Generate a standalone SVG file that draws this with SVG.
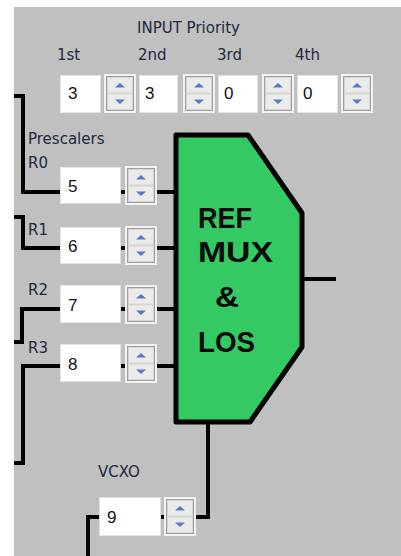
<svg xmlns="http://www.w3.org/2000/svg" width="401" height="556" viewBox="0 0 401 556">
<style>
.lbl{font-family:"DejaVu Sans",sans-serif;font-size:15px;fill:#222a3c}
.val{font-family:"Liberation Sans",Arial,sans-serif;font-size:17px;fill:#111}
.box{fill:#fff;stroke:#e2e2e2;stroke-width:1}
.wire{fill:none;stroke:#000;stroke-width:4;stroke-linejoin:miter}
.chiptxt{font-family:"Liberation Sans",Arial,sans-serif;font-weight:bold;font-size:29px;fill:#0a0a0a}
</style>
<defs>
<g id="spin">
<rect x="0" y="0" width="32" height="39" fill="#f2f2f2"/>
<rect x="2.5" y="2.5" width="27" height="34" fill="#d4d4d4" stroke="#a0a0a0" stroke-width="1"/>
<rect x="4" y="4" width="24" height="14.5" fill="#ebebeb"/>
<rect x="4" y="20.5" width="24" height="14.5" fill="#ebebeb"/>
<polygon points="11,13.5 21,13.5 16,9" fill="#5a78c8"/>
<polygon points="11,25.5 21,25.5 16,30" fill="#5a78c8"/>
</g>
</defs>
<rect width="401" height="556" fill="#fff"/>
<rect x="14" y="7" width="387" height="549" fill="#c0c0c0"/>

<g id="connectors">
<polyline class="wire" points="14,96 23,96 23,192 60,192"/>
<polyline class="wire" points="14,217 23,217 23,248 60,248"/>
<polyline class="wire" points="14,342 22,342 22,309 60,309"/>
<polyline class="wire" points="14,463 23,463 23,366 60,366"/>
<line class="wire" x1="120" y1="192" x2="178" y2="192"/>
<line class="wire" x1="120" y1="248" x2="178" y2="248"/>
<line class="wire" x1="120" y1="309" x2="178" y2="309"/>
<line class="wire" x1="120" y1="366" x2="178" y2="366"/>
<line class="wire" x1="300" y1="279" x2="336" y2="279"/>
<polyline class="wire" points="160,517 208,517 208,420"/>
<polyline class="wire" points="99,517 88,517 88,556"/>
</g>

<g id="priority">
<text class="lbl" x="137" y="33">INPUT Priority</text>
<text class="lbl" x="57" y="60">1st</text>
<text class="lbl" x="138" y="60">2nd</text>
<text class="lbl" x="217" y="60">3rd</text>
<text class="lbl" x="295" y="60">4th</text>
<rect class="box" x="60.5" y="75.5" width="40" height="37"/>
<text class="val" x="68" y="99">3</text>
<use href="#spin" x="104" y="74"/>
<rect class="box" x="139.5" y="75.5" width="38" height="37"/>
<text class="val" x="145" y="99">3</text>
<use href="#spin" x="183" y="74"/>
<rect class="box" x="218.5" y="75.5" width="39" height="37"/>
<text class="val" x="224" y="99">0</text>
<use href="#spin" x="262" y="74"/>
<rect class="box" x="297.5" y="75.5" width="40" height="37"/>
<text class="val" x="303" y="99">0</text>
<use href="#spin" x="341" y="74"/>
</g>

<g id="prescalers">
<text class="lbl" x="28" y="144">Prescalers</text>
<text class="lbl" x="28" y="168">R0</text>
<rect class="box" x="60.5" y="167.5" width="60" height="36"/>
<text class="val" x="68" y="192">5</text>
<use href="#spin" x="125" y="166"/>
<text class="lbl" x="28" y="235">R1</text>
<rect class="box" x="60.5" y="227.5" width="60" height="36"/>
<text class="val" x="68" y="252">6</text>
<use href="#spin" x="125" y="226"/>
<text class="lbl" x="28" y="295">R2</text>
<rect class="box" x="60.5" y="285.5" width="60" height="37"/>
<text class="val" x="68" y="311">7</text>
<use href="#spin" x="125" y="285"/>
<text class="lbl" x="28" y="353">R3</text>
<rect class="box" x="60.5" y="344.5" width="60" height="37"/>
<text class="val" x="68" y="370">8</text>
<use href="#spin" x="125" y="344"/>
</g>

<g id="refmux">
<path d="M176,135 L248,135 L302,213 L302,347 L250,422 L176,422 Z" fill="#35c964" stroke="#000" stroke-width="5" stroke-linejoin="round"/>
<text class="chiptxt" x="198" y="228" textLength="54" lengthAdjust="spacingAndGlyphs">REF</text>
<text class="chiptxt" x="198" y="262" textLength="75" lengthAdjust="spacingAndGlyphs">MUX</text>
<text class="chiptxt" x="215" y="307" textLength="24" lengthAdjust="spacingAndGlyphs">&amp;</text>
<text class="chiptxt" x="198" y="352" textLength="57" lengthAdjust="spacingAndGlyphs">LOS</text>
</g>

<g id="vcxo">
<text class="lbl" x="98" y="477">VCXO</text>
<rect class="box" x="99.5" y="497.5" width="61" height="38"/>
<text class="val" x="107" y="523">9</text>
<use href="#spin" x="164" y="497"/>
</g>
</svg>
